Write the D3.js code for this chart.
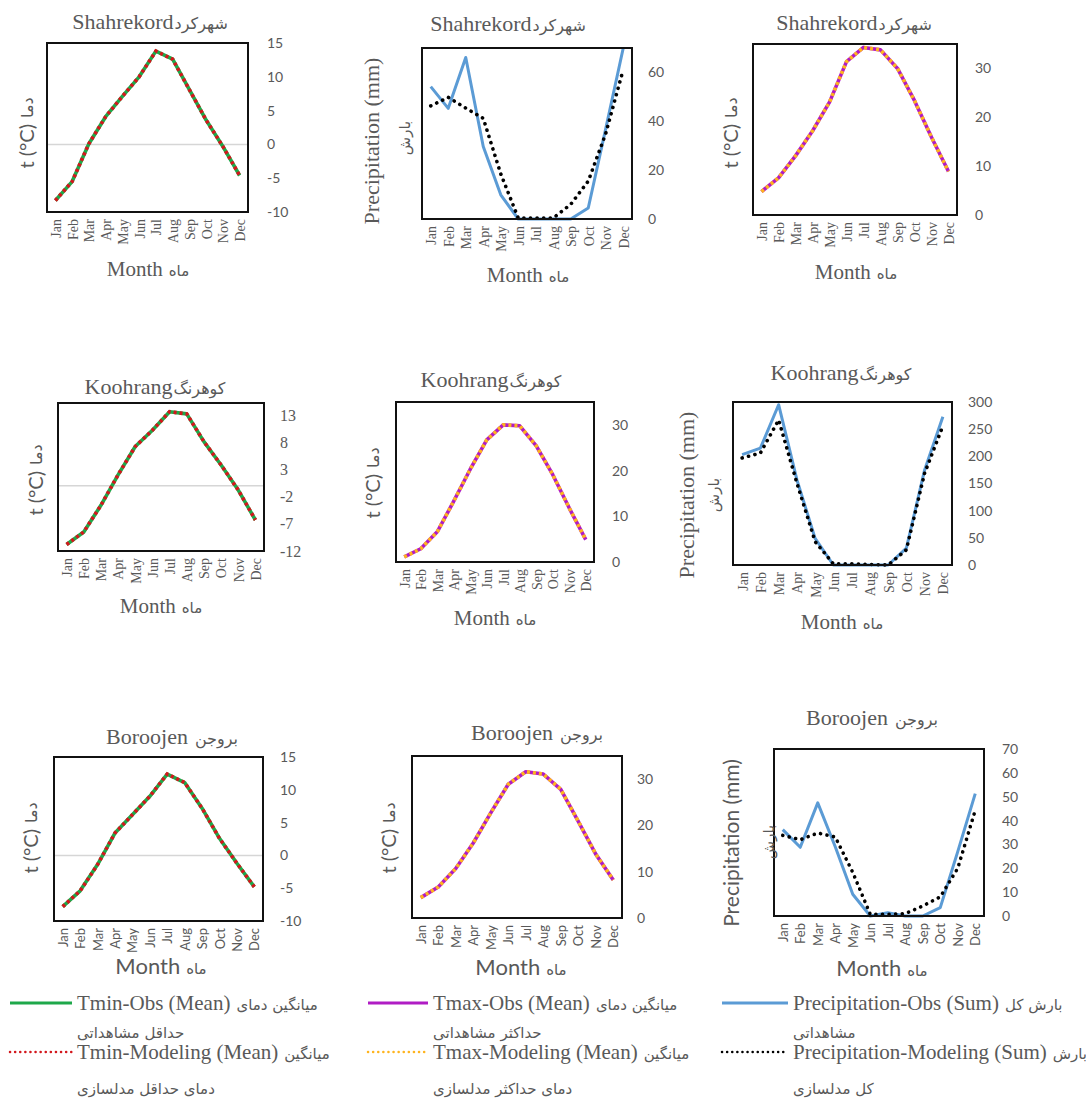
<!DOCTYPE html>
<html>
<head>
<meta charset="utf-8">
<script src="https://cdn.jsdelivr.net/npm/d3@7"></script>
<style>
  body { margin: 0; background: #fff; }
</style>
</head>
<body>
<div id="chart"></div>
<script>

  var months = ["Jan","Feb","Mar","Apr","May","Jun","Jul","Aug","Sep","Oct","Nov","Dec"];

  // Shahrekord
  var shTminObs = [-8.3,-5.5,0.1,4.1,7.1,10.0,13.8,12.6,8.1,3.6,-0.3,-4.6];
  var shTminMod = [-8.3,-5.5,0.1,4.1,7.1,10.0,13.8,12.6,8.1,3.6,-0.3,-4.6];
  var shPrecObs = [54.2,45.3,66.1,29.7,9.9,0,0,0,0,4.5,37,70];
  var shPrecMod = [46.3,49.8,45.4,41.2,18.5,0.4,0.4,0.4,6.0,15.5,35,61.2];
  var shTmaxObs = [4.8,7.6,12.1,17.2,23.1,31.4,34.3,33.8,30,23.4,15.9,8.9];
  var shTmaxMod = [4.8,7.6,12.1,17.2,23.1,31.4,34.3,33.8,30,23.4,15.9,8.9];

  // Koohrang
  var koTminObs = [-10.8,-8.5,-3.6,2.0,7.2,10.2,13.6,13.2,8.1,3.8,-0.8,-6.3];
  var koTminMod = [-10.8,-8.5,-3.6,2.0,7.2,10.2,13.6,13.2,8.1,3.8,-0.8,-6.3];
  var koTmaxObs = [1.1,2.9,6.6,13.3,20.3,26.7,30,29.8,25.4,19.1,11.8,4.9];
  var koTmaxMod = [1.1,2.9,6.6,13.3,20.3,26.7,30,29.8,25.4,19.1,11.8,4.9];
  var koPrecObs = [203,215,295,157,49,0,0,0,0,31,175,273];
  var koPrecMod = [197,206,267,151,43,2,2,1,0,28,169,256];

  // Boroojen
  var boTminObs = [-7.8,-5.4,-1.4,3.4,6.2,9.0,12.4,11.1,7.2,2.6,-1.2,-4.8];
  var boTminMod = [-7.8,-5.4,-1.4,3.4,6.2,9.0,12.4,11.1,7.2,2.6,-1.2,-4.8];
  var boTmaxObs = [4.4,6.7,10.7,16.2,22.7,28.9,31.6,31.1,27.8,20.9,13.8,8.2];
  var boTmaxMod = [4.4,6.7,10.7,16.2,22.7,28.9,31.6,31.1,27.8,20.9,13.8,8.2];
  var boPrecObs = [36.2,28.8,47.4,29,9.1,0,1.4,0,0,3.5,27,51.3];
  var boPrecMod = [33.8,32,34.8,33.1,18.3,0.7,0.7,1,4.2,8,20,44.3];

  // tick labels
  var tminTicks = [-10,-5,0,5,10,15];
  var koTminTicks = [-12,-7,-2,3,8,13];
  var tmaxTicks = [0,10,20,30];
  var shPrecTicks = [0,20,40,60];
  var koPrecTicks = [0,50,100,150,200,250,300];
  var boPrecTicks = [0,10,20,30,40,50,60,70];

  var serif = "\"Liberation Serif\", \"DejaVu Serif\", \"Times New Roman\", Times, serif";
  var sans = "Lato, \"Open Sans\", sans-serif";
  var faFont = "\"DejaVu Sans\", sans-serif";
  var grey = "#595959";

  var styles = {
    tmin: {obs: "#1ea84a", mod: "#d3171c", dash: "3,3", cap: "butt", w: 3.6},
    tmax: {obs: "#b01cc4", mod: "#ffb41e", dash: "3,3", cap: "butt", w: 3.6},
    prec: {obs: "#5b9bd5", mod: "#000", dash: "0.1,6.5", cap: "round", w: 3.6}
  };

  var panels = [
    {x:47, y:43, w:201, h:169, kind:"tmin", obs:shTminObs, mod:shTminMod, domain:[-10,15], ticks:tminTicks,
     name:"Shahrekord", fa:"شهرکرد", tx:150, ty:29, tickPad:19, tickFont:sans, tickSize:14, xFont:serif, xSize:14,
     lab:"t", lx:27, ly:133, monthFont:serif, mx:148, my:276},
    {x:422, y:48, w:210, h:171, kind:"prec", obs:shPrecObs, mod:shPrecMod, domain:[0,70], ticks:shPrecTicks,
     name:"Shahrekord", fa:"شهرکرد", tx:508, ty:31, tickPad:16, tickFont:sans, tickSize:14, xFont:serif, xSize:14,
     lab:"p", labFont:serif, lx:371, ly:141, fx:405, fy:138, monthFont:serif, mx:528, my:282},
    {x:753, y:44, w:204, h:171, kind:"tmax", obs:shTmaxObs, mod:shTmaxMod, domain:[0,35], ticks:tmaxTicks,
     name:"Shahrekord", fa:"شهرکرد", tx:854, ty:30, tickPad:18, tickFont:sans, tickSize:14, xFont:serif, xSize:14,
     lab:"t", lx:731, ly:133, monthFont:serif, mx:856, my:279},

    {x:58, y:403, w:206, h:148, kind:"tmin", obs:koTminObs, mod:koTminMod, domain:[-12,15.2], ticks:koTminTicks,
     name:"Koohrang", fa:"کوهرنگ", tx:155, ty:394, tickPad:16, tickFont:serif, tickSize:16, xFont:serif, xSize:14,
     lab:"t", lx:36, ly:480, monthFont:serif, mx:161, my:613},
    {x:396, y:402, w:198, h:160, kind:"tmax", obs:koTmaxObs, mod:koTmaxMod, domain:[0,35], ticks:tmaxTicks,
     name:"Koohrang", fa:"کوهرنگ", tx:491, ty:387, tickPad:18, tickFont:sans, tickSize:14, xFont:serif, xSize:14,
     lab:"t", lx:373, ly:483, monthFont:serif, mx:495, my:625},
    {x:733, y:402, w:219, h:163, kind:"prec", obs:koPrecObs, mod:koPrecMod, domain:[0,300], ticks:koPrecTicks,
     name:"Koohrang", fa:"کوهرنگ", tx:841, ty:380, tickPad:16, tickFont:sans, tickSize:14, xFont:serif, xSize:14,
     lab:"p", labFont:serif, lx:686, ly:495, fx:714, fy:495, monthFont:serif, mx:842, my:629},

    {x:54, y:757, w:209, h:164, kind:"tmin", obs:boTminObs, mod:boTminMod, domain:[-10,15], ticks:tminTicks,
     name:"Boroojen", fa:"بروجن", tx:172, ty:744, tickPad:17, tickFont:sans, tickSize:14, xFont:sans, xSize:13,
     lab:"t", lx:31, ly:838, monthFont:sans, mx:161, my:974},
    {x:412, y:756, w:210, h:162, kind:"tmax", obs:boTmaxObs, mod:boTmaxMod, domain:[0,35], ticks:tmaxTicks,
     name:"Boroojen", fa:"بروجن", tx:537, ty:740, tickPad:15, tickFont:sans, tickSize:14, xFont:sans, xSize:13,
     lab:"t", lx:389, ly:838, monthFont:sans, mx:521, my:975},
    {x:774, y:749, w:210, h:167, kind:"prec", obs:boPrecObs, mod:boPrecMod, domain:[0,70], ticks:boPrecTicks,
     name:"Boroojen", fa:"بروجن", tx:872, ty:725, tickPad:18, tickFont:sans, tickSize:14, xFont:sans, xSize:13,
     lab:"p", labFont:sans, lx:732, ly:843, fx:769, fy:842, monthFont:sans, mx:882, my:976}
  ];

  var svg = d3.select("#chart").append("svg")
      .attr("width", 1086)
      .attr("height", 1113);

  // english + persian pieces set side by side, centred on (cx, cy)
  function mixedText(cx, cy, rot, parts, gap) {
    var g = svg.append("g")
        .attr("transform", "translate(" + cx + "," + cy + ")" + (rot ? " rotate(-90)" : ""));
    var nodes = parts.map(function(pt) {
      return g.append("text")
          .attr("fill", grey)
          .attr("dy", rot ? "0.35em" : null)
          .style("font-family", pt.font)
          .style("font-size", pt.size + "px")
          .text(pt.text);
    });
    var widths = nodes.map(function(n) { return n.node().getComputedTextLength(); });
    var x0 = -(d3.sum(widths) + gap * (parts.length - 1)) / 2;
    nodes.forEach(function(n, i) {
      n.attr("x", x0);
      x0 += widths[i] + gap;
    });
  }

  panels.forEach(drawPanel);

  function drawPanel(p) {
    var st = styles[p.kind];

    var xScale = d3.scalePoint()
        .domain(months)
        .range([0, p.w])
        .padding(0.5);
    var yScale = d3.scaleLinear()
        .domain(p.domain)
        .range([p.h, 0]);

    var g = svg.append("g")
        .attr("transform", "translate(" + p.x + "," + p.y + ")");

    // zero line on the Tmin charts
    if (p.kind == "tmin") {
      g.append("line")
          .attr("x1", 0).attr("x2", p.w)
          .attr("y1", yScale(0)).attr("y2", yScale(0))
          .attr("stroke", "#d6d6d6")
          .attr("stroke-width", 1.5);
    }

    var line = d3.line()
        .x(function(d, i) { return xScale(months[i]); })
        .y(function(d) { return yScale(d); });

    g.append("path")
        .datum(p.obs)
        .attr("d", line)
        .attr("fill", "none")
        .attr("stroke", st.obs)
        .attr("stroke-width", p.kind == "prec" ? 3 : st.w)
        .attr("stroke-linejoin", "round");

    g.append("path")
        .datum(p.mod)
        .attr("d", line)
        .attr("fill", "none")
        .attr("stroke", st.mod)
        .attr("stroke-width", st.w)
        .attr("stroke-dasharray", st.dash)
        .attr("stroke-linecap", st.cap);

    // plot area border
    g.append("rect")
        .attr("width", p.w)
        .attr("height", p.h)
        .attr("fill", "none")
        .attr("stroke", "#111")
        .attr("stroke-width", 2);

    // right axis
    var yAxis = g.append("g")
        .attr("transform", "translate(" + p.w + ",0)")
        .call(d3.axisRight(yScale).tickValues(p.ticks).tickSize(0).tickPadding(p.tickPad)
              .tickFormat(function(d) { return String(d); }));
    yAxis.select(".domain").remove();
    yAxis.selectAll("text")
        .style("font-family", p.tickFont)
        .style("font-size", p.tickSize + "px")
        .attr("fill", grey);

    // month axis
    var xAxis = g.append("g")
        .attr("transform", "translate(0," + p.h + ")")
        .call(d3.axisBottom(xScale).tickSize(0));
    xAxis.select(".domain").remove();
    xAxis.selectAll("text")
        .attr("transform", "rotate(-90)")
        .attr("text-anchor", "end")
        .attr("x", -7)
        .attr("y", 0)
        .attr("dy", "0.35em")
        .style("font-family", p.xFont)
        .style("font-size", p.xSize + "px")
        .attr("fill", grey);

    // title
    mixedText(p.tx, p.ty, false,
      [{text: p.name, font: serif, size: 22}, {text: p.fa, font: faFont, size: 16}],
      p.name == "Boroojen" ? 7 : 1);

    // y label
    if (p.lab == "t") {
      mixedText(p.lx, p.ly, true,
        [{text: "t (°C)", font: sans, size: 20}, {text: "دما", font: faFont, size: 16}], 6);
    } else {
      mixedText(p.lx, p.ly, true,
        [{text: "Precipitation (mm)", font: p.labFont, size: p.labFont == serif ? 22 : 21}], 0);
      mixedText(p.fx, p.fy, true,
        [{text: "بارش", font: faFont, size: 15}], 0);
    }

    // x label
    mixedText(p.mx, p.my, false,
      [{text: "Month", font: p.monthFont, size: p.monthFont == serif ? 21 : 22}, {text: "ماه", font: faFont, size: 15}], 6);
  }

  ////// Legend //////
  var legendItems = [
    {x:10, lw:62, kind:"tmin", en1:"Tmin-Obs (Mean)", fa1:"میانگین دمای", fa2:"حداقل مشاهداتی",
     en2:"Tmin-Modeling (Mean)", fa3:"میانگین", fa4:"دمای حداقل مدلسازی"},
    {x:368, lw:60, kind:"tmax", en1:"Tmax-Obs (Mean)", fa1:"میانگین دمای", fa2:"حداکثر مشاهداتی",
     en2:"Tmax-Modeling (Mean)", fa3:"میانگین", fa4:"دمای حداکثر مدلسازی"},
    {x:722, lw:66, kind:"prec", en1:"Precipitation-Obs (Sum)", fa1:"بارش کل", fa2:"مشاهداتی",
     en2:"Precipitation-Modeling (Sum)", fa3:"بارش", fa4:"کل مدلسازی"}
  ];

  var legend = svg.append("g").attr("class", "legend");

  function legendText(x, y, txt, font, size) {
    return legend.append("text")
        .attr("x", x).attr("y", y)
        .attr("fill", grey)
        .style("font-family", font)
        .style("font-size", size + "px")
        .text(txt);
  }

  legendItems.forEach(function(it) {
    var st = styles[it.kind];
    var tx = it.x + it.lw + 5;

    legend.append("line")
        .attr("x1", it.x).attr("x2", it.x + it.lw)
        .attr("y1", 1003).attr("y2", 1003)
        .attr("stroke", st.obs)
        .attr("stroke-width", 3);
    legend.append("line")
        .attr("x1", it.x).attr("x2", it.x + it.lw)
        .attr("y1", 1052).attr("y2", 1052)
        .attr("stroke", st.mod)
        .attr("stroke-width", 2.5)
        .attr("stroke-dasharray", "0.1,5")
        .attr("stroke-linecap", "round");

    var e1 = legendText(tx, 1010, it.en1, serif, 21);
    legendText(tx + e1.node().getComputedTextLength() + 6, 1010, it.fa1, faFont, 15);
    legendText(tx, 1038, it.fa2, faFont, 15);
    var e2 = legendText(tx, 1059, it.en2, serif, 21);
    legendText(tx + e2.node().getComputedTextLength() + 6, 1059, it.fa3, faFont, 15);
    legendText(tx, 1094, it.fa4, faFont, 15);
  });

</script>
</body>
</html>
